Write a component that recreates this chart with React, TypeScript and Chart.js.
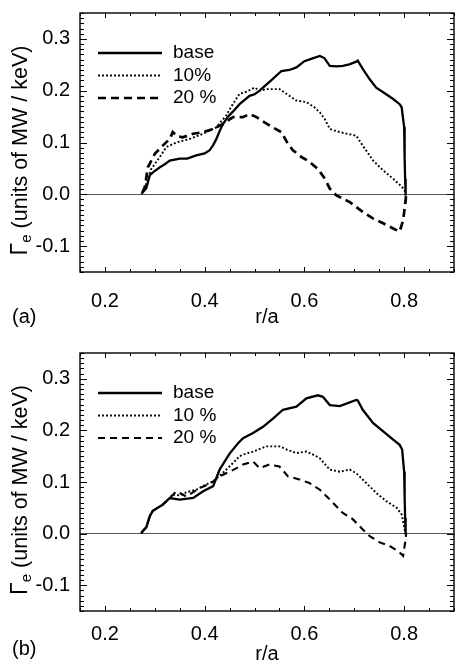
import React, { useEffect, useRef } from 'react';
import { Chart, registerables } from 'chart.js';

Chart.register(...registerables);

// ---------- tick labels / axis ----------
const xTickValues = [0.2, 0.4, 0.6, 0.8];
const yTickValues = [-0.1, 0.0, 0.1, 0.2, 0.3];
const xRange = [0.15, 0.9];
const yRange = [-0.15, 0.35];
const xTitle = 'r/a';
const yTitleMain = 'Γ';
const yTitleSub = 'e';
const yTitleRest = ' (units of MW / keV)';

// ---------- panel (a) ----------
const legendA = ['base', '10%', '20 %'];
const baseA_r = [0.273, 0.276, 0.283, 0.29, 0.3, 0.31, 0.32, 0.33, 0.35, 0.365, 0.383, 0.4, 0.41, 0.417, 0.423, 0.43, 0.437, 0.447, 0.457, 0.47, 0.49, 0.5, 0.51, 0.53, 0.554, 0.57, 0.584, 0.6, 0.615, 0.631, 0.64, 0.651, 0.665, 0.677, 0.69, 0.704, 0.707, 0.717, 0.731, 0.744, 0.758, 0.778, 0.791, 0.795, 0.8, 0.801, 0.802, 0.803];
const baseA_v = [0.001, 0.004, 0.012, 0.037, 0.045, 0.052, 0.058, 0.065, 0.069, 0.069, 0.075, 0.079, 0.085, 0.095, 0.106, 0.122, 0.136, 0.15, 0.16, 0.174, 0.19, 0.193, 0.2, 0.217, 0.238, 0.24, 0.245, 0.257, 0.262, 0.267, 0.263, 0.248, 0.247, 0.248, 0.251, 0.256, 0.258, 0.242, 0.222, 0.206, 0.197, 0.184, 0.174, 0.168, 0.13, 0.07, 0.03, 0.0];
const p10A_r = [0.275, 0.28, 0.286, 0.293, 0.31, 0.323, 0.343, 0.37, 0.397, 0.423, 0.443, 0.457, 0.47, 0.484, 0.5, 0.51, 0.524, 0.55, 0.567, 0.584, 0.604, 0.62, 0.631, 0.641, 0.651, 0.671, 0.704, 0.717, 0.738, 0.758, 0.778, 0.788, 0.795, 0.801, 0.803];
const p10A_v = [0.004, 0.011, 0.03, 0.049, 0.072, 0.091, 0.1, 0.107, 0.117, 0.129, 0.152, 0.175, 0.194, 0.198, 0.206, 0.2, 0.203, 0.203, 0.192, 0.181, 0.178, 0.168, 0.158, 0.145, 0.126, 0.12, 0.113, 0.094, 0.065, 0.046, 0.03, 0.021, 0.015, 0.008, -0.003];
const p20A_r = [0.275, 0.28, 0.286, 0.3, 0.316, 0.33, 0.336, 0.345, 0.356, 0.377, 0.397, 0.417, 0.437, 0.457, 0.477, 0.49, 0.504, 0.52, 0.537, 0.554, 0.567, 0.577, 0.594, 0.607, 0.627, 0.641, 0.651, 0.664, 0.691, 0.717, 0.738, 0.758, 0.778, 0.791, 0.798, 0.803, 0.804];
const p20A_v = [0.003, 0.014, 0.052, 0.078, 0.094, 0.107, 0.12, 0.112, 0.11, 0.117, 0.12, 0.126, 0.136, 0.149, 0.149, 0.155, 0.149, 0.139, 0.129, 0.12, 0.097, 0.085, 0.072, 0.065, 0.049, 0.03, 0.011, -0.002, -0.015, -0.034, -0.047, -0.056, -0.066, -0.072, -0.05, -0.012, 0.0];

// ---------- panel (b) ----------
const legendB = ['base', '10 %', '20 %'];
const baseB_r = [0.273, 0.276, 0.283, 0.29, 0.296, 0.316, 0.33, 0.35, 0.377, 0.397, 0.417, 0.43, 0.45, 0.467, 0.477, 0.497, 0.517, 0.537, 0.557, 0.584, 0.604, 0.627, 0.637, 0.651, 0.671, 0.704, 0.707, 0.717, 0.738, 0.758, 0.778, 0.791, 0.796, 0.8, 0.801, 0.802, 0.803];
const baseB_v = [0.001, 0.005, 0.012, 0.034, 0.044, 0.056, 0.069, 0.066, 0.069, 0.082, 0.092, 0.124, 0.155, 0.175, 0.185, 0.195, 0.207, 0.223, 0.24, 0.246, 0.262, 0.268, 0.265, 0.249, 0.247, 0.259, 0.258, 0.24, 0.214, 0.198, 0.182, 0.172, 0.163, 0.12, 0.07, 0.03, 0.0];
const p10B_r = [0.273, 0.276, 0.283, 0.29, 0.296, 0.316, 0.33, 0.336, 0.35, 0.363, 0.383, 0.4, 0.417, 0.437, 0.457, 0.47, 0.477, 0.497, 0.524, 0.55, 0.567, 0.584, 0.604, 0.62, 0.631, 0.651, 0.671, 0.691, 0.704, 0.724, 0.744, 0.764, 0.785, 0.795, 0.801, 0.803];
const p10B_v = [0.001, 0.005, 0.012, 0.034, 0.044, 0.056, 0.069, 0.076, 0.074, 0.08, 0.085, 0.094, 0.101, 0.118, 0.137, 0.15, 0.153, 0.159, 0.169, 0.169, 0.162, 0.156, 0.159, 0.152, 0.146, 0.124, 0.12, 0.124, 0.117, 0.098, 0.079, 0.063, 0.05, 0.037, 0.008, -0.002];
const p20B_r = [0.273, 0.276, 0.283, 0.29, 0.296, 0.316, 0.33, 0.343, 0.363, 0.39, 0.413, 0.43, 0.45, 0.464, 0.477, 0.497, 0.51, 0.53, 0.55, 0.567, 0.59, 0.61, 0.631, 0.651, 0.677, 0.697, 0.717, 0.731, 0.751, 0.771, 0.788, 0.798, 0.803, 0.804];
const p20B_v = [0.001, 0.005, 0.012, 0.034, 0.044, 0.056, 0.069, 0.082, 0.072, 0.088, 0.098, 0.111, 0.12, 0.127, 0.134, 0.14, 0.127, 0.134, 0.13, 0.111, 0.105, 0.098, 0.085, 0.066, 0.04, 0.028, 0.008, -0.005, -0.017, -0.024, -0.034, -0.043, -0.011, 0.0];

const FONT = '"Liberation Sans", Arial, Helvetica, sans-serif';

type PanelSpec = {
  label: string;
  labelY: number;
  legend: string[];
  series: { r: number[]; v: number[] }[];
  padTop: number;
  xAxisH: number;
  xTickPad: number;
  xTitlePad: number;
  dash20: number[];
  width20: number;
};

const zip = (r: number[], v: number[]) => r.map((x, i) => ({ x, y: v[i] }));
const near = (a: number, b: number) => Math.abs(a - b) < 1e-6;

const framePlugin = (spec: PanelSpec) => ({
  id: 'frameTicks',
  afterDraw(chart: any) {
    const { ctx, chartArea: ca, scales } = chart;
    const x = scales.x;
    const y = scales.y;
    ctx.save();
    ctx.strokeStyle = '#000';
    // inward ticks on all four sides
    ctx.lineWidth = 1;
    ctx.beginPath();
    for (let i = 0; i <= 15; i++) {
      const v = xRange[0] + i * 0.05;
      const px = Math.round(x.getPixelForValue(v)) + 0.5;
      const len = xTickValues.some((t) => near(t, v)) ? 5 : 3;
      ctx.moveTo(px, ca.bottom);
      ctx.lineTo(px, ca.bottom - len);
      ctx.moveTo(px, ca.top);
      ctx.lineTo(px, ca.top + len);
    }
    for (let i = 0; i <= 50; i++) {
      const v = yRange[0] + i * 0.01;
      const py = Math.round(y.getPixelForValue(v)) + 0.5;
      const len = yTickValues.some((t) => near(t, v)) ? 7 : 4;
      ctx.moveTo(ca.left, py);
      ctx.lineTo(ca.left + len, py);
      ctx.moveTo(ca.right, py);
      ctx.lineTo(ca.right - len, py);
    }
    ctx.stroke();
    // frame
    ctx.lineWidth = 1.4;
    ctx.strokeRect(ca.left, ca.top, ca.right - ca.left, ca.bottom - ca.top);

    // legend
    const rows = [40, 62.5, 85];
    chart.data.datasets.forEach((ds: any, i: number) => {
      const yy = ca.top + rows[i];
      ctx.save();
      ctx.beginPath();
      ctx.strokeStyle = ds.borderColor;
      ctx.lineWidth = ds.borderWidth;
      ctx.setLineDash(ds.borderDash || []);
      ctx.moveTo(ca.left + 18, yy);
      ctx.lineTo(ca.left + 82, yy);
      ctx.stroke();
      ctx.restore();
      ctx.fillStyle = '#000';
      ctx.font = `19px ${FONT}`;
      ctx.textBaseline = 'middle';
      ctx.textAlign = 'left';
      ctx.fillText(spec.legend[i], ca.left + 93, yy);
    });

    // panel label
    ctx.font = `20px ${FONT}`;
    ctx.textBaseline = 'middle';
    ctx.textAlign = 'left';
    ctx.fillStyle = '#000';
    ctx.fillText(spec.label, 12, spec.labelY);

    // y title with subscript
    const cy = (ca.top + ca.bottom) / 2 + 8;
    ctx.translate(27, cy);
    ctx.rotate(-Math.PI / 2);
    ctx.textBaseline = 'alphabetic';
    const segs = [
      { t: yTitleMain, f: `23px ${FONT}`, dy: 0 },
      { t: yTitleSub, f: `15px ${FONT}`, dy: 4 },
      { t: yTitleRest, f: `21.5px ${FONT}`, dy: 0 },
    ];
    let total = 0;
    const widths = segs.map((s) => {
      ctx.font = s.f;
      const w = ctx.measureText(s.t).width;
      total += w;
      return w;
    });
    let cx = -total / 2;
    segs.forEach((s, i) => {
      ctx.font = s.f;
      ctx.fillText(s.t, cx, s.dy);
      cx += widths[i];
    });
    ctx.restore();
  },
});

function buildConfig(spec: PanelSpec): any {
  const styles = [
    { borderWidth: 2.3, borderDash: [] as number[] },
    { borderWidth: 1.9, borderDash: [1.9, 2.1] },
    { borderWidth: spec.width20, borderDash: spec.dash20 },
  ];
  return {
    type: 'line',
    data: {
      datasets: spec.series.map((s, i) => ({
        label: spec.legend[i],
        data: zip(s.r, s.v),
        borderColor: '#000',
        borderWidth: styles[i].borderWidth,
        borderDash: styles[i].borderDash,
        pointRadius: 0,
        tension: 0,
        fill: false,
      })),
    },
    options: {
      animation: false,
      responsive: false,
      devicePixelRatio: 1,
      layout: { padding: { top: spec.padTop, right: 1, left: 0, bottom: 0 } },
      plugins: { legend: { display: false }, tooltip: { enabled: false }, title: { display: false } },
      scales: {
        x: {
          type: 'linear',
          min: xRange[0],
          max: xRange[1],
          afterBuildTicks: (s: any) => {
            s.ticks = xTickValues.map((v) => ({ value: v }));
          },
          afterFit: (s: any) => {
            s.height = spec.xAxisH;
            s.paddingLeft = 0;
            s.paddingRight = 0;
          },
          grid: { display: false, drawTicks: false },
          border: { display: false },
          ticks: {
            autoSkip: false,
            maxRotation: 0,
            padding: spec.xTickPad,
            color: '#000',
            font: { family: FONT, size: 20 },
            callback: (v: number) => v.toFixed(1),
          },
          title: {
            display: true,
            text: xTitle,
            color: '#000',
            font: { family: FONT, size: 20 },
            padding: { top: 0, bottom: spec.xTitlePad },
          },
        },
        y: {
          type: 'linear',
          min: yRange[0],
          max: yRange[1],
          afterBuildTicks: (s: any) => {
            s.ticks = yTickValues.map((v) => ({ value: v }));
          },
          afterFit: (s: any) => {
            s.width = 80;
            s.paddingTop = 0;
            s.paddingBottom = 0;
          },
          grid: {
            drawTicks: false,
            lineWidth: 1,
            color: (c: any) => (c.tick && Math.abs(c.tick.value) < 1e-9 ? '#555' : 'rgba(0,0,0,0)'),
          },
          border: { display: false },
          ticks: {
            padding: 10,
            color: '#000',
            font: { family: FONT, size: 20 },
            callback: (v: number) => v.toFixed(1),
          },
        },
      },
    },
    plugins: [framePlugin(spec)],
  };
}

const panelA: PanelSpec = {
  label: '(a)',
  labelY: 317,
  legend: legendA,
  series: [
    { r: baseA_r, v: baseA_v },
    { r: p10A_r, v: p10A_v },
    { r: p20A_r, v: p20A_v },
  ],
  padTop: 13,
  xAxisH: 61,
  xTickPad: 17,
  xTitlePad: 4,
  dash20: [8, 5],
  width20: 2.7,
};

const panelB: PanelSpec = {
  label: '(b)',
  labelY: 316,
  legend: legendB,
  series: [
    { r: baseB_r, v: baseB_v },
    { r: p10B_r, v: p10B_v },
    { r: p20B_r, v: p20B_v },
  ],
  padTop: 20,
  xAxisH: 55,
  xTickPad: 11,
  xTitlePad: 0,
  dash20: [7, 5],
  width20: 2.1,
};

function Panel({ spec }: { spec: PanelSpec }) {
  const ref = useRef<HTMLCanvasElement | null>(null);
  useEffect(() => {
    if (!ref.current) return;
    const chart = new Chart(ref.current, buildConfig(spec));
    return () => chart.destroy();
  }, [spec]);
  return <canvas ref={ref} width={455} height={333} style={{ display: 'block', width: 455, height: 333 }} />;
}

export default function App() {
  useEffect(() => {
    document.body.style.margin = '0';
    document.body.style.background = '#fff';
  }, []);
  return (
    <div style={{ width: 455, height: 666, background: '#fff' }}>
      <Panel spec={panelA} />
      <Panel spec={panelB} />
    </div>
  );
}
